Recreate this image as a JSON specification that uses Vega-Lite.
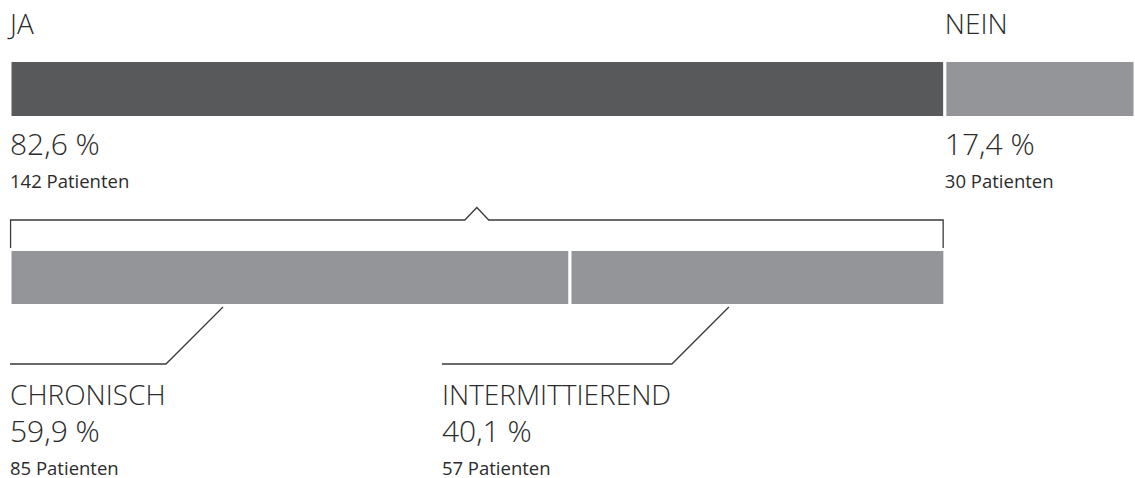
{
  "$schema": "https://vega.github.io/schema/vega-lite/v6.json",
  "width": 1125,
  "height": 478,
  "autosize": {"type": "none"},
  "padding": {"left": 10, "top": 0, "right": 0, "bottom": 0},
  "background": "white",
  "config": {"view": {"stroke": null}, "font": "Open Sans"},
  "datasets": {
    "anteile": [
      {"ebene": "gesamt", "kategorie": "JA", "start": 0, "ende": 82.6, "prozent": "82,6 %", "patienten": "142 Patienten"},
      {"ebene": "gesamt", "kategorie": "NEIN", "start": 82.6, "ende": 100, "prozent": "17,4 %", "patienten": "30 Patienten"},
      {"ebene": "ja", "kategorie": "CHRONISCH", "start": 0, "ende": 49.48, "prozent": "59,9 %", "patienten": "85 Patienten"},
      {"ebene": "ja", "kategorie": "INTERMITTIEREND", "start": 49.48, "ende": 82.6, "prozent": "40,1 %", "patienten": "57 Patienten"}
    ],
    "linien": [
      {"pfad": "klammer", "i": 1, "x": 0.05, "y": 248},
      {"pfad": "klammer", "i": 2, "x": 0.05, "y": 220},
      {"pfad": "klammer", "i": 3, "x": 40.19, "y": 220},
      {"pfad": "klammer", "i": 4, "x": 41.25, "y": 207.5},
      {"pfad": "klammer", "i": 5, "x": 42.3, "y": 220},
      {"pfad": "klammer", "i": 6, "x": 82.45, "y": 220},
      {"pfad": "klammer", "i": 7, "x": 82.45, "y": 248},
      {"pfad": "chronisch", "i": 1, "x": 0, "y": 364},
      {"pfad": "chronisch", "i": 2, "x": 13.78, "y": 364},
      {"pfad": "chronisch", "i": 3, "x": 18.82, "y": 307},
      {"pfad": "intermittierend", "i": 1, "x": 38.16, "y": 364},
      {"pfad": "intermittierend", "i": 2, "x": 58.48, "y": 364},
      {"pfad": "intermittierend", "i": 3, "x": 63.52, "y": 307}
    ]
  },
  "layer": [
    {
      "data": {"name": "anteile"},
      "transform": [{"filter": "datum.ebene === 'gesamt'"}],
      "mark": {"type": "rect", "stroke": "white", "strokeWidth": 3},
      "encoding": {
        "x": {"field": "start", "type": "quantitative", "scale": {"domain": [0, 99.4], "clamp": true, "nice": false, "zero": false}, "axis": null},
        "x2": {"field": "ende"},
        "y": {"datum": 60.5, "type": "quantitative", "scale": {"domain": [0, 478], "reverse": true, "nice": false, "zero": false}, "axis": null},
        "y2": {"datum": 117.5},
        "color": {"field": "kategorie", "type": "nominal", "scale": {"domain": ["JA", "NEIN", "CHRONISCH", "INTERMITTIEREND"], "range": ["#58595b", "#939598", "#939598", "#939598"]}, "legend": null}
      }
    },
    {
      "data": {"name": "anteile"},
      "transform": [{"filter": "datum.ebene === 'ja'"}],
      "mark": {"type": "rect", "stroke": "white", "strokeWidth": 3},
      "encoding": {
        "x": {"field": "start", "type": "quantitative"},
        "x2": {"field": "ende"},
        "y": {"datum": 249.5, "type": "quantitative"},
        "y2": {"datum": 305.5},
        "color": {"field": "kategorie", "type": "nominal", "legend": null}
      }
    },
    {
      "data": {"name": "linien"},
      "mark": {"type": "line", "color": "#3a3a3a", "strokeWidth": 1.3},
      "encoding": {
        "x": {"field": "x", "type": "quantitative"},
        "y": {"field": "y", "type": "quantitative"},
        "detail": {"field": "pfad"},
        "order": {"field": "i", "type": "quantitative"}
      }
    },
    {
      "data": {"name": "anteile"},
      "transform": [{"filter": "datum.ebene === 'gesamt'"}],
      "mark": {"type": "text", "align": "left", "baseline": "alphabetic", "fontSize": 28, "fontWeight": 300, "color": "#2b2b2b"},
      "encoding": {
        "x": {"field": "start", "type": "quantitative"},
        "y": {"datum": 34, "type": "quantitative"},
        "text": {"field": "kategorie"}
      }
    },
    {
      "data": {"name": "anteile"},
      "transform": [{"filter": "datum.ebene === 'gesamt'"}],
      "mark": {"type": "text", "align": "left", "baseline": "alphabetic", "fontSize": 30, "fontWeight": 300, "color": "#2b2b2b"},
      "encoding": {
        "x": {"field": "start", "type": "quantitative"},
        "y": {"datum": 155, "type": "quantitative"},
        "text": {"field": "prozent"}
      }
    },
    {
      "data": {"name": "anteile"},
      "transform": [{"filter": "datum.ebene === 'gesamt'"}],
      "mark": {"type": "text", "align": "left", "baseline": "alphabetic", "fontSize": 18.5, "fontWeight": 400, "color": "#2b2b2b"},
      "encoding": {
        "x": {"field": "start", "type": "quantitative"},
        "y": {"datum": 188, "type": "quantitative"},
        "text": {"field": "patienten"}
      }
    },
    {
      "data": {"name": "anteile"},
      "transform": [{"filter": "datum.kategorie === 'CHRONISCH'"}],
      "layer": [
        {
          "mark": {"type": "text", "align": "left", "baseline": "alphabetic", "fontSize": 28, "fontWeight": 300, "color": "#2b2b2b"},
          "encoding": {"x": {"datum": 0, "type": "quantitative"}, "y": {"datum": 405, "type": "quantitative"}, "text": {"field": "kategorie"}}
        },
        {
          "mark": {"type": "text", "align": "left", "baseline": "alphabetic", "fontSize": 30, "fontWeight": 300, "color": "#2b2b2b"},
          "encoding": {"x": {"datum": 0, "type": "quantitative"}, "y": {"datum": 442, "type": "quantitative"}, "text": {"field": "prozent"}}
        },
        {
          "mark": {"type": "text", "align": "left", "baseline": "alphabetic", "fontSize": 18.5, "fontWeight": 400, "color": "#2b2b2b"},
          "encoding": {"x": {"datum": 0, "type": "quantitative"}, "y": {"datum": 474.5, "type": "quantitative"}, "text": {"field": "patienten"}}
        }
      ]
    },
    {
      "data": {"name": "anteile"},
      "transform": [{"filter": "datum.kategorie === 'INTERMITTIEREND'"}],
      "layer": [
        {
          "mark": {"type": "text", "align": "left", "baseline": "alphabetic", "fontSize": 28, "fontWeight": 300, "color": "#2b2b2b"},
          "encoding": {"x": {"datum": 38.16, "type": "quantitative"}, "y": {"datum": 405, "type": "quantitative"}, "text": {"field": "kategorie"}}
        },
        {
          "mark": {"type": "text", "align": "left", "baseline": "alphabetic", "fontSize": 30, "fontWeight": 300, "color": "#2b2b2b"},
          "encoding": {"x": {"datum": 38.16, "type": "quantitative"}, "y": {"datum": 442, "type": "quantitative"}, "text": {"field": "prozent"}}
        },
        {
          "mark": {"type": "text", "align": "left", "baseline": "alphabetic", "fontSize": 18.5, "fontWeight": 400, "color": "#2b2b2b"},
          "encoding": {"x": {"datum": 38.16, "type": "quantitative"}, "y": {"datum": 474.5, "type": "quantitative"}, "text": {"field": "patienten"}}
        }
      ]
    }
  ]
}
